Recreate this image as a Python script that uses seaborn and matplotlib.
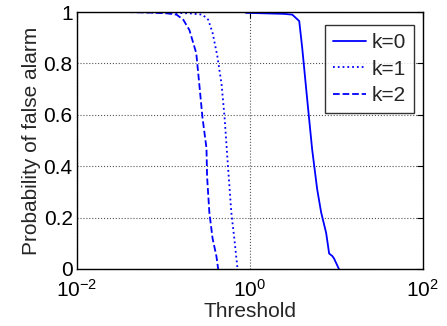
import matplotlib
matplotlib.use("Agg")
import matplotlib.pyplot as plt
import seaborn as sns
import pandas as pd
from matplotlib.ticker import NullLocator

sns.set_theme(style="white")
plt.rcParams['font.family'] = ['Liberation Sans', 'DejaVu Sans']
plt.rcParams['mathtext.fontset'] = 'custom'
plt.rcParams['mathtext.rm'] = 'Liberation Sans'
plt.rcParams['mathtext.it'] = 'Liberation Sans'
plt.rcParams['mathtext.default'] = 'regular'

# k=0
thr_k0 = [0.90, 1.5, 2.5, 3.09, 3.72, 4.03, 4.60, 5.25, 6.0, 6.67, 7.62, 8.25, 9.0, 9.42, 10.7]
pfa_k0 = [0.997, 0.995, 0.993, 0.99, 0.965, 0.86, 0.66, 0.465, 0.31, 0.22, 0.14, 0.06, 0.05, 0.04, 0.0]
# k=1
thr_k1 = [0.05, 0.10, 0.20, 0.283, 0.33, 0.37, 0.42, 0.47, 0.51, 0.55, 0.61, 0.66, 0.72]
pfa_k1 = [1.0, 0.998, 0.995, 0.99, 0.97, 0.92, 0.83, 0.72, 0.59, 0.43, 0.22, 0.12, 0.0]
# k=2
thr_k2 = [0.038, 0.07, 0.11, 0.142, 0.17, 0.20, 0.24, 0.26, 0.283, 0.315, 0.32, 0.34, 0.37, 0.41, 0.43]
pfa_k2 = [1.0, 0.998, 0.995, 0.99, 0.97, 0.93, 0.84, 0.72, 0.59, 0.47, 0.36, 0.22, 0.12, 0.05, 0.0]

labels = ["k=0", "k=1", "k=2"]
styles = ["-", ":", "--"]
x_ticks = [1e-2, 1e0, 1e2]
x_ticklabels = ["$10^{-2}$", "$10^{0}$", "$10^{2}$"]
y_ticks = [0, 0.2, 0.4, 0.6, 0.8, 1]
y_ticklabels = ["0", "0.2", "0.4", "0.6", "0.8", "1"]

fig = plt.figure(figsize=(4.47, 3.26), dpi=100)
ax = fig.add_axes([0.172, 0.175, 0.774, 0.788])

for thr, pfa, lab, ls in zip([thr_k0, thr_k1, thr_k2], [pfa_k0, pfa_k1, pfa_k2], labels, styles):
    df = pd.DataFrame({"Threshold": thr, "Pfa": pfa})
    sns.lineplot(data=df, x="Threshold", y="Pfa", ax=ax, sort=False, estimator=None,
                 color="#0000ff", linestyle=ls, linewidth=1.3, label=lab)

ax.set_xscale("log")
ax.set_xlim(1e-2, 1e2)
ax.set_ylim(0, 1)
ax.set_xticks(x_ticks)
ax.set_xticklabels(x_ticklabels)
ax.xaxis.set_minor_locator(NullLocator())
ax.set_yticks(y_ticks)
ax.set_yticklabels(y_ticklabels)
ax.grid(True, linestyle=":", color="#555555", linewidth=0.8)
ax.tick_params(direction="in", top=True, right=True, length=4, width=0.8,
               labelsize=15, colors="black")
ax.tick_params(axis="x", pad=7)
ax.tick_params(axis="y", pad=3)
for s in ax.spines.values():
    s.set_color("black")
    s.set_linewidth(1.0)
ax.set_xlabel("Threshold", fontsize=15, labelpad=1)
ax.set_ylabel("Probability of false alarm", fontsize=15, labelpad=2)

leg = ax.legend(loc="upper right", bbox_to_anchor=(0.975, 0.95), fontsize=15,
                frameon=True, fancybox=False, edgecolor="black", handlelength=1.6,
                borderpad=0.4, labelspacing=0.35, handletextpad=0.25, borderaxespad=0.0)
leg.get_frame().set_linewidth(1.0)

fig.savefig("out.png", dpi=100)
